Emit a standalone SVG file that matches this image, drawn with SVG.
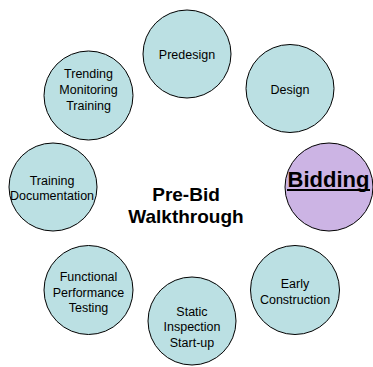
<svg xmlns="http://www.w3.org/2000/svg" width="373" height="367" viewBox="0 0 373 367">
<style>
.n{fill:#bbe0e3;stroke:#000;stroke-width:1}
.b{fill:#ccb4e4;stroke:#000;stroke-width:1}
text{font-family:"Liberation Sans",Arial,sans-serif;fill:#000;text-anchor:middle}
.t{font-size:12.5px}
.c{font-size:19px;font-weight:bold}
.bd{font-size:22px;font-weight:bold}
</style>
<rect width="373" height="367" fill="#fff"/>
<g id="connectors"/>
<g id="predesign"><circle class="n" cx="187" cy="54" r="44"/><text class="t" x="187" y="59">Predesign</text></g>
<g id="design"><circle class="n" cx="290" cy="88.5" r="44"/><text class="t" x="290" y="94">Design</text></g>
<g id="bidding"><circle class="b" cx="329" cy="187" r="44"/><text class="bd" x="328.5" y="187">Bidding</text><rect x="287" y="189" width="83" height="2" fill="#000"/></g>
<g id="early"><circle class="n" cx="295" cy="290" r="44.5"/><text class="t" x="295" y="288">Early</text><text class="t" x="295" y="304">Construction</text></g>
<g id="static"><circle class="n" cx="192" cy="321" r="44"/><text class="t" x="192" y="315.5">Static</text><text class="t" x="192" y="331">Inspection</text><text class="t" x="192" y="347">Start-up</text></g>
<g id="functional"><circle class="n" cx="88.5" cy="290" r="44.5"/><text class="t" x="88.5" y="281">Functional</text><text class="t" x="88.5" y="297">Performance</text><text class="t" x="88.5" y="312">Testing</text></g>
<g id="training"><circle class="n" cx="53" cy="187" r="44"/><text class="t" x="52" y="185">Training</text><text class="t" x="52" y="200">Documentation</text></g>
<g id="trending"><circle class="n" cx="88.5" cy="95.5" r="44.5"/><text class="t" x="88.5" y="78">Trending</text><text class="t" x="88.5" y="94">Monitoring</text><text class="t" x="88.5" y="110">Training</text></g>
<g id="center"><text class="c" x="186" y="201">Pre-Bid</text><text class="c" x="186" y="223">Walkthrough</text></g>
</svg>
